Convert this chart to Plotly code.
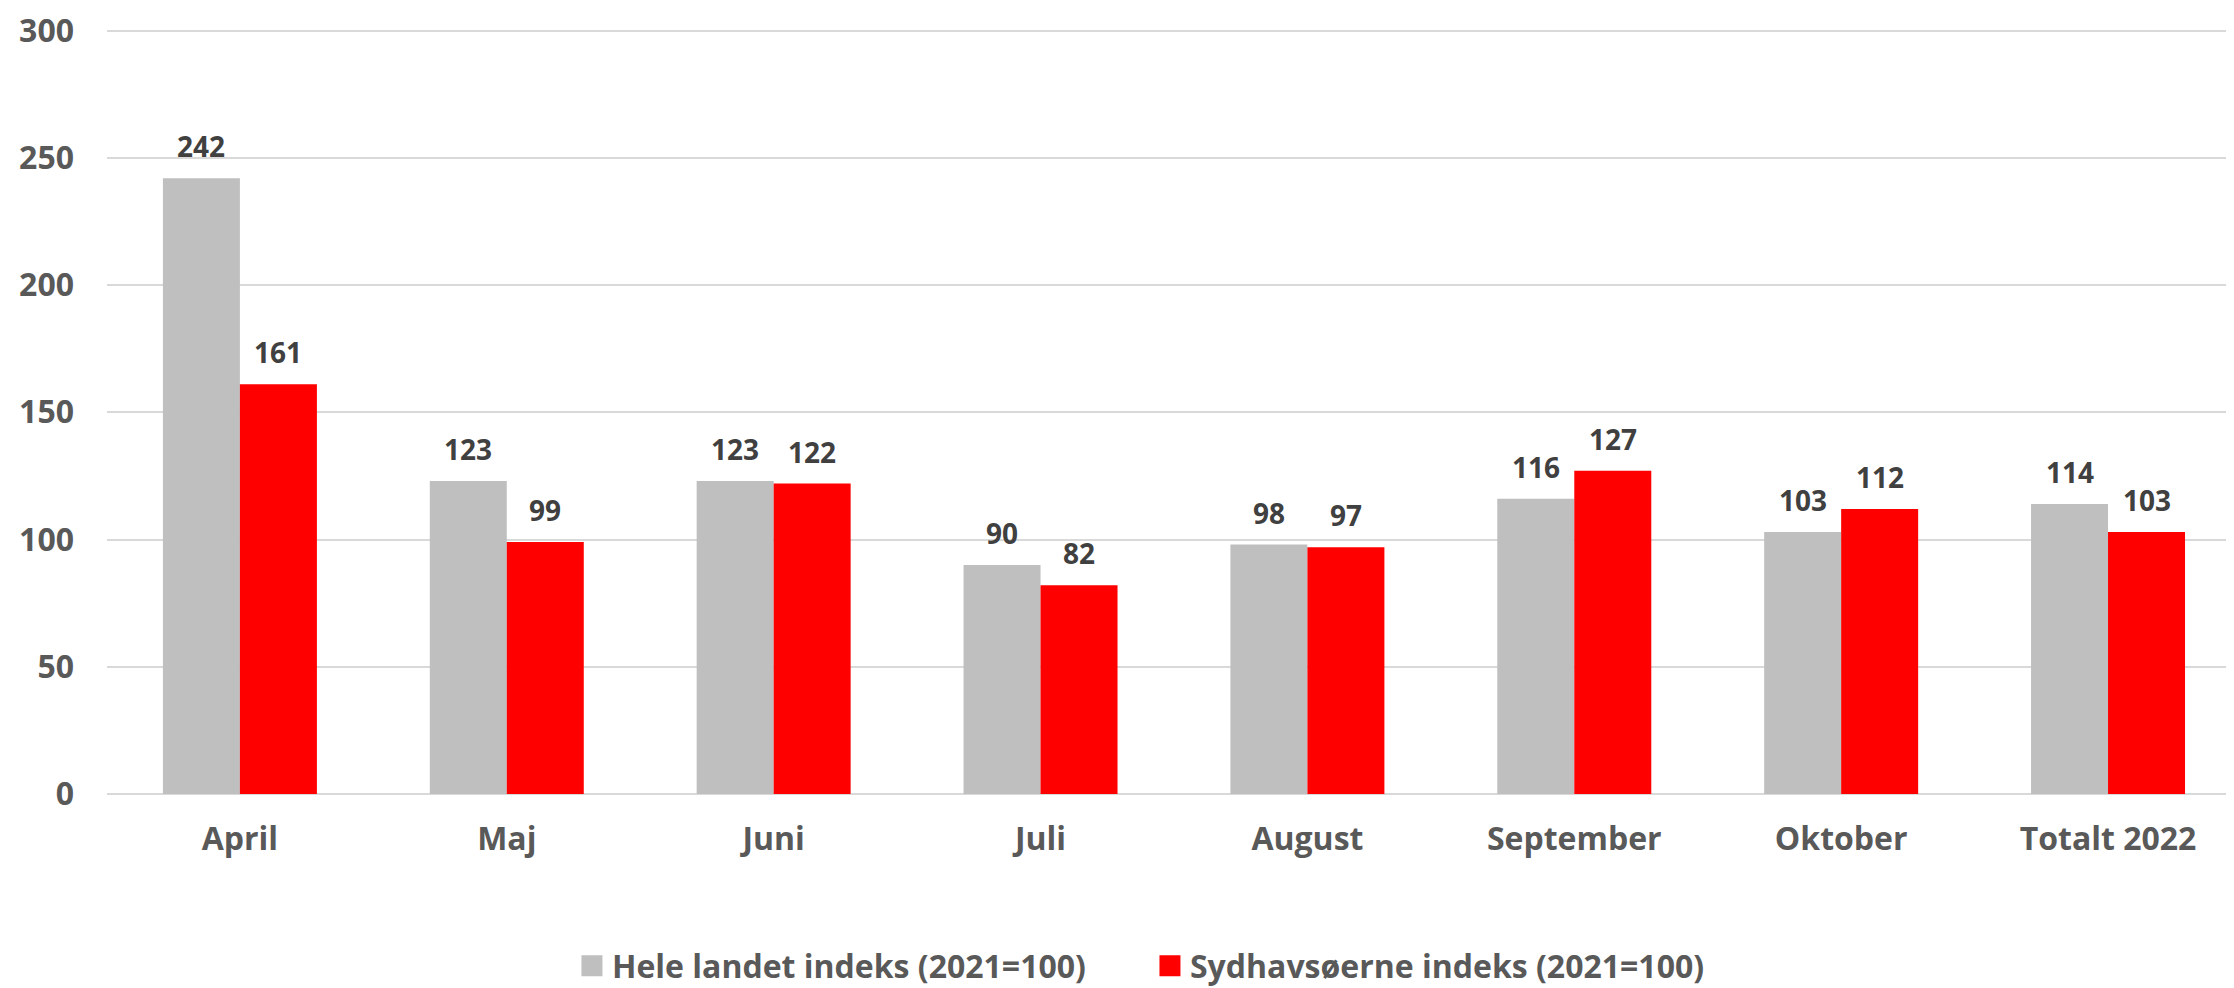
import plotly.graph_objects as go

categories = ["April", "Maj", "Juni", "Juli", "August", "September", "Oktober", "Totalt 2022"]
hele_landet = [242, 123, 123, 90, 98, 116, 103, 114]
sydhavsoerne = [161, 99, 122, 82, 97, 127, 112, 103]
series_names = ["Hele landet indeks (2021=100)", "Sydhavsøerne indeks (2021=100)"]
y_ticks = [0, 50, 100, 150, 200, 250, 300]

FONT = "Open Sans"
GRAY = "#bfbfbf"
RED = "#ff0000"
colors = [GRAY, RED]

fig = go.Figure()
for name, vals, col in zip(series_names, (hele_landet, sydhavsoerne), colors):
    fig.add_trace(go.Bar(x=categories, y=vals, name=name, legendgroup=name,
                         showlegend=False, marker=dict(color=col, line=dict(width=0))))
# legend entries with larger square swatches
for name, col in zip(series_names, colors):
    fig.add_trace(go.Scatter(x=[None], y=[None], mode="markers", name=name, legendgroup=name,
                             marker=dict(symbol="square", size=16, color=col,
                                         line=dict(color=col, width=5)),
                             hoverinfo="skip"))

annotations = []
for vals, shift in ((hele_landet, -38.5), (sydhavsoerne, 38.5)):
    for c, v in zip(categories, vals):
        annotations.append(dict(
            x=c, y=v, xref="x", yref="y", text=str(v), showarrow=False,
            xshift=shift, yanchor="bottom", yshift=11,
            font=dict(family=FONT, size=28, color="#404040", weight="bold"),
        ))

# page body keeps its default 8px margin, so the figure is 8px smaller than the window
fig.update_layout(
    width=2226, height=980,
    margin=dict(l=99, r=0, t=20, b=194, autoexpand=False),
    plot_bgcolor="white", paper_bgcolor="white",
    barmode="group", bargap=0.423, bargroupgap=0,
    annotations=annotations,
    showlegend=True,
    legend=dict(
        orientation="h", x=0.2186, xanchor="left", y=-0.2245, yanchor="middle",
        font=dict(family=FONT, size=32, color="#595959", weight="bold"),
        entrywidth=533, entrywidthmode="pixels", itemwidth=30,
        bgcolor="rgba(0,0,0,0)",
    ),
    xaxis=dict(
        type="category", range=[-0.498, 7.472], automargin=False,
        showgrid=False, showline=False, zeroline=False, ticks="",
        tickfont=dict(family=FONT, size=32, color="#595959", weight="bold"),
        ticklabelstandoff=23,
    ),
    yaxis=dict(
        range=[0, 301], tickvals=y_ticks, automargin=False,
        showgrid=True, gridcolor="#d9d9d9", gridwidth=2,
        zeroline=True, zerolinecolor="#d9d9d9", zerolinewidth=2,
        showline=False, ticks="", ticklabeloverflow="allow",
        tickfont=dict(family=FONT, size=32, color="#595959", weight="bold"),
        ticklabelstandoff=32,
    ),
)

fig.write_html("out.html")
